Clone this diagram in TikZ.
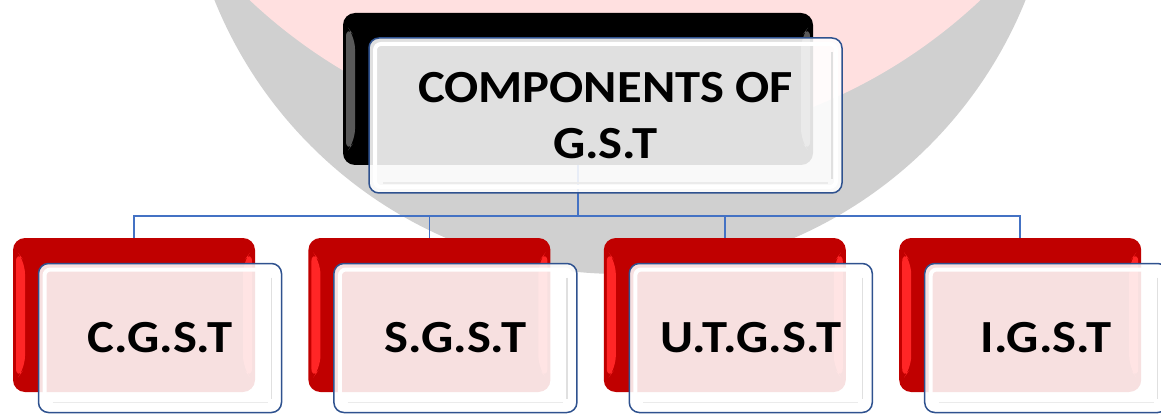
\documentclass[tikz,border=0pt]{standalone}
\usepackage{fontspec}
\setmainfont{Carlito}[FakeStretch=1.1]
\usetikzlibrary{positioning}
\definecolor{boxred}{RGB}{192,0,0}
\definecolor{linkblue}{RGB}{68,114,196}
\definecolor{rimblue}{RGB}{47,82,143}
\definecolor{markgray}{RGB}{208,208,208}
\definecolor{markpink}{RGB}{255,224,224}
\tikzset{
backbox/.style 2 args={
    rounded corners=12pt,
    fill=#1,
    minimum width=242pt, minimum height=154pt,
    path picture={%
        \fill[#2] ([shift={(3pt,-12pt)}]path picture bounding box.north west) -- ([shift={(12pt,-24pt)}]path picture bounding box.north west) -- ([shift={(12pt,24pt)}]path picture bounding box.south west) -- ([shift={(3pt,12pt)}]path picture bounding box.south west) -- cycle;%
        \fill[#2] ([shift={(-3pt,-12pt)}]path picture bounding box.north east) -- ([shift={(-12pt,-24pt)}]path picture bounding box.north east) -- ([shift={(-12pt,24pt)}]path picture bounding box.south east) -- ([shift={(-3pt,12pt)}]path picture bounding box.south east) -- cycle;%
    }
},
frontbox/.style={
    rounded corners=10pt,
    draw=rimblue, line width=1.5pt,
    fill=white, fill opacity=.88, text opacity=1,
    minimum width=243pt, minimum height=149pt,
    align=center, font=\bfseries\fontsize{46}{56}\selectfont,
    path picture={%
        \draw[white,line width=4pt,rounded corners=6pt] ([shift={(6pt,-6pt)}]path picture bounding box.north west) rectangle ([shift={(-6pt,6pt)}]path picture bounding box.south east);%
        \draw[black!12,line width=1.5pt] ([shift={(-10pt,-14pt)}]path picture bounding box.north east) -- ([shift={(-10pt,14pt)}]path picture bounding box.south east);%
        \draw[black!8,line width=1.5pt] ([shift={(14pt,10pt)}]path picture bounding box.south west) -- ([shift={(-14pt,10pt)}]path picture bounding box.south east);%
    }
},
link/.style={draw=linkblue, line width=1.8pt}
}

\begin{document}
\begin{tikzpicture}[x=1pt,y=-1pt]
\useasboundingbox (0,0) rectangle (1161,414);
% watermark behind the chart
\begin{scope}
\clip (0,0) rectangle (1161,414);
\fill[markgray] (620,-163) circle (437);
\fill[markpink] (615,-388) circle (533);
\end{scope}
% back boxes
\node[backbox={black}{white!35!black}, minimum width=470pt, minimum height=152pt] at (578,89) (gstback) {};
\node[backbox={boxred}{red!85!white}] at (134,315) (cgstback) {};
\node[backbox={boxred}{red!85!white}, right=53pt of cgstback] (sgstback) {};
\node[backbox={boxred}{red!85!white}, right=53pt of sgstback] (utgstback) {};
\node[backbox={boxred}{red!85!white}, right=53pt of utgstback] (igstback) {};
% connectors
\coordinate (bus) at (0,216);
\foreach \n in {cgst,sgst,utgst,igst}
    \draw[link] (gstback.south) -- (gstback.south |- bus) -| (\n back.north);
% front boxes
\node[frontbox, minimum width=473pt, minimum height=155pt, xshift=27.5pt, yshift=-26.5pt] at (gstback) (gst) {COMPONENTS OF\\G.S.T};
\node[frontbox, xshift=26pt, yshift=-23pt] at (cgstback) (cgst) {C.G.S.T};
\node[frontbox, xshift=26pt, yshift=-23pt] at (sgstback) (sgst) {S.G.S.T};
\node[frontbox, xshift=26pt, yshift=-23pt] at (utgstback) (utgst) {U.T.G.S.T};
\node[frontbox, xshift=26pt, yshift=-23pt] at (igstback) (igst) {I.G.S.T};
\end{tikzpicture}
\end{document}
